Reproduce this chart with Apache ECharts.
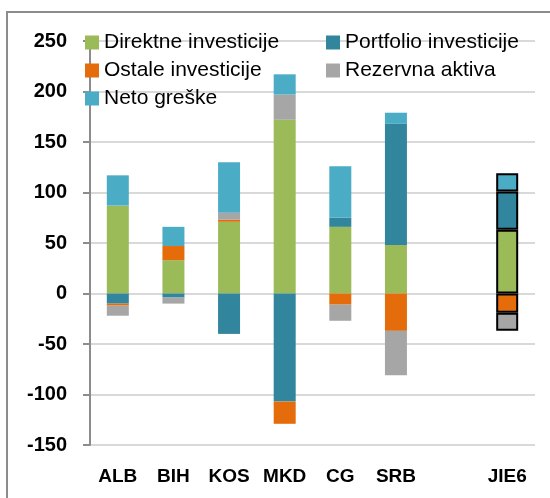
<!DOCTYPE html>
<html>
<head>
<meta charset="utf-8">
<script src="https://cdn.jsdelivr.net/npm/echarts@6/dist/echarts.min.js"></script>
<style>
html,body{margin:0;padding:0;background:#fff;}
#chart{width:550px;height:498px;}
</style>
</head>
<body>
<div id="chart"></div>
<script>
var categories = ['ALB','BIH','KOS','MKD','CG','SRB','','JIE6'];
var direktne   = [87, 33, 71, 172, 66, 48, null, 63];
var portfolio  = [-10, -4, -40, -107, 9, 120, null, 38];
var ostale     = [-2, 14, 2, -22, -11, -37, null, -19];
var rezervna   = [-10, -6, 7, 25, -16, -44, null, -18];
var neto       = [30, 19, 50, 20, 51, 11, null, 18];
var yTicks = {min:-150, max:250, interval:50};

var names = ['Direktne investicije','Portfolio investicije','Ostale investicije','Rezervna aktiva','Neto greške'];
var colors = ['#9BBB59','#31859C','#E46C0A','#A6A6A6','#4BACC6'];
var values = [direktne, portfolio, ostale, rezervna, neto];

var font = 'Liberation Sans';
var dom = document.getElementById('chart');
var myChart = echarts.init(dom);

// zadnji stupac (JIE6) ima crni okvir
var toData = function(arr){
	return arr.map(function(v,i){
		if(categories[i]=='JIE6'){
			return {value:v, itemStyle:{borderColor:'#000',borderWidth:2}};
		}
		return v;
	});
};

var series = [];
for(var i=0;i<names.length;i++){
	series.push({
		name:names[i],
		type:'bar',
		stack:'total',
		barWidth:22,
		itemStyle:{color:colors[i]},
		data:toData(values[i])
	});
}

var legendText = {fontFamily:font,fontSize:21,color:'#000',lineHeight:21};

var option = {
	animation:false,
	color:colors,
	graphic:[{
		type:'rect',
		shape:{x:7,y:12,width:600,height:600},
		style:{fill:'none',stroke:'#8c8c8c',lineWidth:2},
		silent:true
	}],
	legend:[{
		data:[names[0],names[2],names[4]],
		orient:'vertical',
		left:85,
		top:32,
		padding:0,
		itemWidth:14,
		itemHeight:14,
		itemGap:7,
		icon:'rect',
		textStyle:legendText
	},{
		data:[names[1],names[3]],
		orient:'vertical',
		left:326,
		top:32,
		padding:0,
		itemWidth:14,
		itemHeight:14,
		itemGap:7,
		icon:'rect',
		textStyle:legendText
	}],
	grid:{left:90,right:15,top:41,bottom:53,containLabel:false},
	xAxis:{
		type:'category',
		data:categories,
		axisLine:{show:false,onZero:false},
		axisTick:{show:false},
		axisLabel:{
			margin:22,
			fontFamily:font,
			fontSize:19,
			fontWeight:'bold',
			color:'#000',
			interval:0
		}
	},
	yAxis:{
		type:'value',
		min:yTicks.min,
		max:yTicks.max,
		interval:yTicks.interval,
		axisLine:{show:true,lineStyle:{color:'#8c8c8c',width:2}},
		axisTick:{show:true,length:7,lineStyle:{color:'#8c8c8c',width:2}},
		splitLine:{lineStyle:{color:'#d9d9d9',width:2}},
		axisLabel:{
			margin:23,
			fontFamily:font,
			fontSize:20,
			fontWeight:'bold',
			color:'#000'
		}
	},
	series:series
};
myChart.setOption(option);
</script>
</body>
</html>
